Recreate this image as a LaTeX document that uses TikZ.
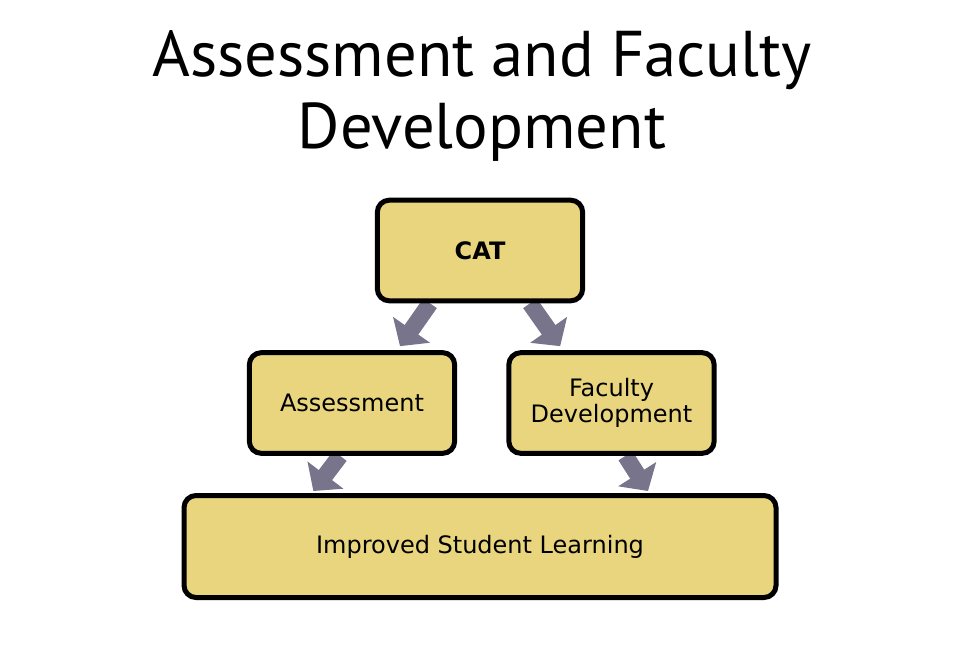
\documentclass[tikz,border=0pt]{standalone}
\usepackage{fontspec}
\setmainfont{DejaVu Sans}
\newfontfamily\titlefont{PT Sans}
\usetikzlibrary{arrows.meta,backgrounds}
\definecolor{boxfill}{RGB}{232,213,126}
\definecolor{arrowgray}{RGB}{119,116,140}
\tikzset{
  stagebox/.style={draw=black, line width=3.75pt, rounded corners=9pt, fill=boxfill,
    minimum width=154pt, minimum height=75.5pt, align=center,
    font=\fontsize{18}{19.5}\selectfont},
  flowarrow/.style={draw=arrowgray, line width=12.5pt, -{Triangle[width=33pt,length=15pt]}},
}
\begin{document}
\begin{tikzpicture}[x=0.75pt,y=-0.75pt]
  \useasboundingbox (0,0) rectangle (960,651);
  \node[font=\titlefont\fontsize{48.5}{54.5}\selectfont, align=center] (title) at (482,96)
    {Assessment and Faculty\\Development};
  \node[stagebox] (cat) at (480,250.5) {\textbf{CAT}};
  \node[stagebox] (assess) at (352,403) {Assessment};
  \node[stagebox] (faculty) at (611.5,403) {Faculty\\Development};
  \node[stagebox, minimum width=444pt, minimum height=76.5pt] (learning) at (480,546.5)
    {Improved Student Learning};
  \begin{scope}[on background layer]
    \draw[flowarrow] ([xshift=-37.5pt]cat.south) -- ([xshift=36pt,yshift=3pt]assess.north);
    \draw[flowarrow] ([xshift=37.5pt]cat.south) -- ([xshift=-38.5pt,yshift=3pt]faculty.north);
    \draw[flowarrow] ([xshift=-9pt]assess.south) -- ([xshift=-125pt,yshift=1.5pt]learning.north);
    \draw[flowarrow] ([xshift=10.5pt]faculty.south) -- ([xshift=126pt,yshift=1.5pt]learning.north);
  \end{scope}
\end{tikzpicture}
\end{document}
